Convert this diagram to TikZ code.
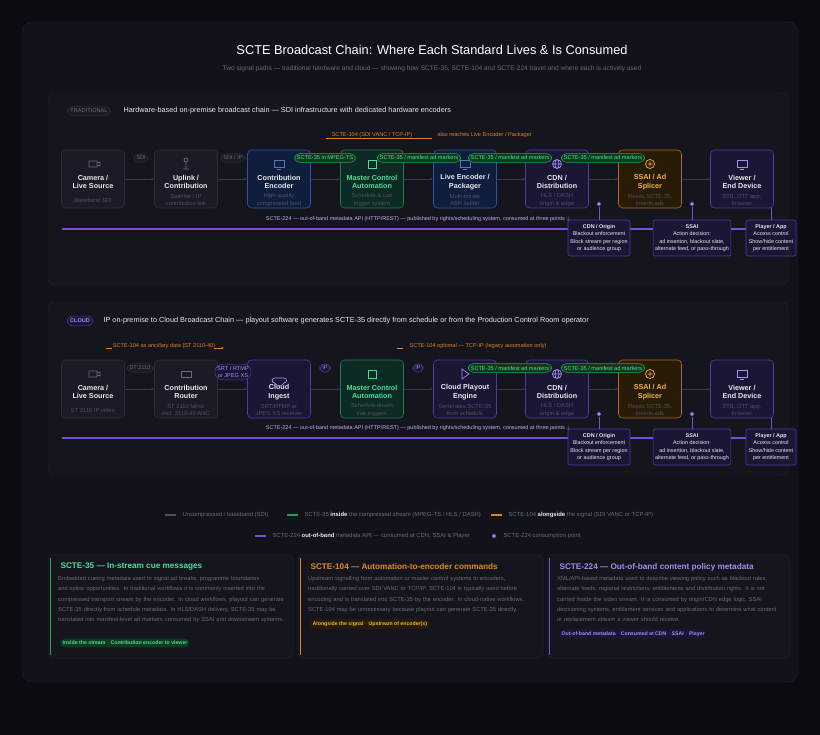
\documentclass[tikz,border=0pt]{standalone}
\usepackage{fontspec}
\setmainfont{Liberation Sans}
\usetikzlibrary{arrows.meta}
\definecolor{bgc}{HTML}{0B0B12}
\definecolor{panelc}{HTML}{12121A}
\definecolor{secc}{HTML}{15151E}
\definecolor{secline}{HTML}{23232F}
\definecolor{txt}{HTML}{E8E8F0}
\definecolor{subt}{HTML}{50505E}
\definecolor{mute}{HTML}{6A6A7A}
\definecolor{grayf}{HTML}{1B1B26}
\definecolor{grayd}{HTML}{2C2C3A}
\definecolor{bluef}{HTML}{0F1E3C}
\definecolor{blued}{HTML}{2B55A8}
\definecolor{greenf}{HTML}{0E2A24}
\definecolor{greend}{HTML}{1E7A58}
\definecolor{greent}{HTML}{4ADE9A}
\definecolor{pillg}{HTML}{0F3A1E}
\definecolor{pillgd}{HTML}{22A050}
\definecolor{purpf}{HTML}{1A1634}
\definecolor{purpd}{HTML}{4E3CA8}
\definecolor{purpl}{HTML}{7C4DDB}
\definecolor{purpt}{HTML}{A48CF0}
\definecolor{orangef}{HTML}{281B08}
\definecolor{oranged}{HTML}{B06A12}
\definecolor{orangel}{HTML}{E0801E}
\definecolor{oranget}{HTML}{F0B43C}
\definecolor{arrowc}{HTML}{3A3A4C}

\tikzset{
  box/.style={rounded corners=4, minimum width=63, minimum height=58, line width=0.6},
  graybox/.style={box, fill=grayf, draw=grayd},
  bluebox/.style={box, fill=bluef, draw=blued},
  greenbox/.style={box, fill=greenf, draw=greend},
  purpbox/.style={box, fill=purpf, draw=purpd},
  orangebox/.style={box, fill=orangef, draw=oranged},
  ttl/.style={font=\fontsize{7.2}{8.6}\selectfont\bfseries, align=center},
  sub/.style={font=\fontsize{5.8}{7.6}\selectfont, align=center, text=subt},
  pill/.style={rounded corners=5, inner sep=2.4, line width=0.5, font=\fontsize{5.6}{6.8}\selectfont},
  graypill/.style={pill, fill=grayf, draw=grayd, text=mute},
  greenpill/.style={pill, fill=pillg, draw=pillgd, text=greent},
  purppill/.style={pill, fill=purpf, draw=purpd, text=purpt},
  flow/.style={draw=arrowc, line width=0.7, -{Stealth[length=3pt]}},
  icon/.style={line width=0.7},
  cbox/.style={rounded corners=2, fill=purpf, draw=purpd, line width=0.6, align=center, text=txt,
    font=\fontsize{5.4}{7.4}\selectfont, inner sep=2},
  dot/.style={circle, fill=purpt, draw=purpf, line width=0.8, inner sep=1.6},
  meta/.style={draw=purpl, line width=1.2},
  orangenote/.style={font=\fontsize{5.6}{6.6}\selectfont, text=orangel},
  card/.style={rounded corners=6, fill=secc, draw=secline, line width=0.5},
  cardttl/.style={font=\fontsize{8.2}{9.6}\selectfont\bfseries, anchor=west},
  cardtxt/.style={font=\fontsize{5.75}{10.4}\selectfont, execute at begin node={\hyphenpenalty=10000\relax}, text=mute, anchor=north west, text width=228, align=left, inner sep=0},
  legend/.style={font=\fontsize{5.9}{7}\selectfont, text=mute, anchor=west},
}

% stage: name, x, top, box style, title colour, title, subtitle
\newcommand\stage[7]{%
  \node[#4] (#1) at (#2,#3+29) {};
  \node[ttl, text=#5] (#1-t) at (#2,#3+32) {#6};
  \node[sub] (#1-s) at (#2,#3+50) {#7};
}

\begin{document}
\begin{tikzpicture}[x=1pt,y=-1pt]
\useasboundingbox (0,0) rectangle (820,735);
\fill[bgc] (0,0) rectangle (820,735);
\draw[fill=panelc, draw=secline, rounded corners=10] (22,22) rectangle (798,682);

\node[font=\fontsize{12.8}{14}\selectfont, text=white] (title) at (432,50) {SCTE Broadcast Chain: Where Each Standard Lives \& Is Consumed};
\node[font=\fontsize{6.6}{8}\selectfont, text=mute] (subtitle) at (432,69) {Two signal paths --- traditional hardware and cloud --- showing how SCTE-35, SCTE-104 and SCTE-224 travel and where each is actively used};

%%% traditional chain
\draw[fill=secc, draw=secline, rounded corners=6] (48,93) rectangle (788,285);
\node[pill, fill=grayf, draw=grayd, text=mute, rounded corners=6, inner sep=3, font=\fontsize{5.6}{6}\selectfont] (tagtrad) at (89,111) {TRADITIONAL};
\node[font=\fontsize{7.3}{8}\selectfont, text=txt, anchor=west] (headtrad) at (120,111) {Hardware-based on-premise broadcast chain --- SDI infrastructure with dedicated hardware encoders};

\stage{cam}{93}{150}{graybox}{txt}{Camera /\\Live Source}{Baseband SDI}
\stage{up}{186}{150}{graybox}{txt}{Uplink /\\Contribution}{Satellite / IP\\contribution link}
\stage{enc}{279}{150}{bluebox}{txt}{Contribution\\Encoder}{High-quality\\compressed feed}
\stage{mc}{372}{150}{greenbox}{greent}{Master Control\\Automation}{Schedule \& cue\\trigger system}
\stage{le}{465}{150}{bluebox}{txt}{Live Encoder /\\Packager}{Multi-bitrate\\ABR ladder}
\stage{cdn}{557}{150}{purpbox}{txt}{CDN /\\Distribution}{HLS / DASH\\origin \& edge}
\stage{ssai}{650}{150}{orangebox}{oranget}{SSAI / Ad\\Splicer}{Reads SCTE-35,\\inserts ads}
\stage{view}{742}{150}{purpbox}{txt}{Viewer /\\End Device}{STB, OTT app,\\browser}

% icons
\draw[icon, draw=mute] (89,161) rectangle (97,167) (97,163) -- (100,162) -- (100,166) -- (97,165);
\draw[icon, draw=mute] (186,160) circle (2) (186,162) -- (186,169) (183,169) -- (189,169);
\draw[icon, draw=blued!80!white] (274,160) rectangle (284,167) (277,169) -- (281,169);
\draw[icon, draw=greent] (368,160) rectangle (376,168);
\draw[icon, draw=blued!80!white] (460,160) rectangle (470,167) (463,169) -- (467,169);
\draw[icon, draw=purpt] (557,164) circle (4.5) (552.5,164) -- (561.5,164) (557,164) ellipse (2 and 4.5);
\draw[icon, draw=oranget] (650,164) circle (4.5) (647.5,164) -- (652.5,164) (650,161.5) -- (650,166.5);
\draw[icon, draw=purpt] (737,160) rectangle (747,167) (740,169) -- (744,169);

\foreach \a/\b in {cam/up, up/enc, enc/mc, mc/le, le/cdn, cdn/ssai, ssai/view}
  \draw[flow] (\a.east) -- (\b.west);

\node[graypill] (p1) at (141,158) {SDI};
\node[graypill] (p2) at (233,158) {SDI / IP};
\node[greenpill] (p3) at (325,158) {SCTE-35 in MPEG-TS};
\node[greenpill] (p4) at (419,158) {SCTE-35 / manifest ad markers};
\node[greenpill] (p5) at (510,158) {SCTE-35 / manifest ad markers};
\node[greenpill] (p6) at (603,158) {SCTE-35 / manifest ad markers};

\node[orangenote] (o1) at (372,135) {SCTE-104 (SDI VANC / TCP-IP)};
\draw[orangel, line width=0.7] (326,138) -- (432,138);
\node[orangenote, anchor=west] (o2) at (434,135) {also reaches Live Encoder / Packager};

\node[font=\fontsize{5.5}{6}\selectfont, text=purpt!70!white] (m1) at (418,219) {SCTE-224 --- out-of-band metadata API (HTTP/REST) --- published by rights/scheduling system, consumed at three points $\downarrow$};
\coordinate (l1a) at (62,229);
\coordinate (l1b) at (775,229);
\draw[meta] (l1a) -- (l1b);

\node[cbox, minimum width=62, minimum height=36] (c1) at (599,238) {\textbf{CDN / Origin}\\Blackout enforcement\\Block stream per region\\or audience group};
\node[cbox, minimum width=77, minimum height=36] (c2) at (692,238) {\textbf{SSAI}\\Action decision:\\ad insertion, blackout slate,\\alternate feed, or pass-through};
\node[cbox, minimum width=50, minimum height=36] (c3) at (771,238) {\textbf{Player / App}\\Access control\\Show/hide content\\per entitlement};
\node[dot] (d1) at (599,204) {};
\node[dot] (d2) at (692,204) {};
\draw[purpl, line width=1] (d1) -- (c1.north) (d2) -- (c2.north);
\draw[purpl, line width=1] (view.south -| c3.north) -- (c3.north);

%%% cloud chain
\draw[fill=secc, draw=secline, rounded corners=6] (48,302) rectangle (788,475);
\node[pill, fill=purpf, draw=purpd, text=purpt, rounded corners=6, inner sep=3, font=\fontsize{5.6}{6}\selectfont\bfseries] (tagcloud) at (80,321) {CLOUD};
\node[font=\fontsize{7.3}{8}\selectfont, text=txt, anchor=west] (headcloud) at (100,321) {IP on-premise to Cloud Broadcast Chain --- playout software generates SCTE-35 directly from schedule or from the Production Control Room operator};

\stage{cam2}{93}{360}{graybox}{txt}{Camera /\\Live Source}{ST 2110 IP video}
\stage{rt}{186}{360}{graybox}{txt}{Contribution\\Router}{ST 2110 fabric\\incl. 2110-40 ANC}
\stage{ing}{279}{360}{purpbox}{txt}{Cloud\\Ingest}{SRT/RTMP or\\JPEG XS receiver}
\stage{mc2}{372}{360}{greenbox}{greent}{Master Control\\Automation}{Schedule-driven\\cue triggers}
\stage{pl}{465}{360}{purpbox}{txt}{Cloud Playout\\Engine}{Generates SCTE-35\\from schedule}
\stage{cdn2}{557}{360}{purpbox}{txt}{CDN /\\Distribution}{HLS / DASH\\origin \& edge}
\stage{ssai2}{650}{360}{orangebox}{oranget}{SSAI / Ad\\Splicer}{Reads SCTE-35,\\inserts ads}
\stage{view2}{742}{360}{purpbox}{txt}{Viewer /\\End Device}{STB, OTT app,\\browser}

\draw[icon, draw=mute] (89,371) rectangle (97,377) (97,373) -- (100,372) -- (100,376) -- (97,375);
\draw[icon, draw=mute] (181,371) rectangle (191,377);
\draw[icon, draw=purpt] (274,378) -- (284,378) arc (-90:90:2.5) arc (20:160:5) arc (90:270:2.5);
\draw[icon, draw=greent] (368,370) rectangle (376,378);
\draw[icon, draw=purpt] (462,369) -- (469,374) -- (462,379) -- cycle;
\draw[icon, draw=purpt] (557,374) circle (4.5) (552.5,374) -- (561.5,374) (557,374) ellipse (2 and 4.5);
\draw[icon, draw=oranget] (650,374) circle (4.5) (647.5,374) -- (652.5,374) (650,371.5) -- (650,376.5);
\draw[icon, draw=purpt] (737,370) rectangle (747,377) (740,379) -- (744,379);

\foreach \a/\b in {cam2/rt, rt/ing, ing/mc2, mc2/pl, pl/cdn2, cdn2/ssai2, ssai2/view2}
  \draw[flow] (\a.east) -- (\b.west);

\node[graypill] (q1) at (140,368) {ST 2110};
\node[purppill, align=center, rounded corners=8] (q2) at (233,372) {SRT / RTMP\\or JPEG XS};
\node[purppill] (q3) at (325,368) {IP};
\node[purppill] (q4) at (418,368) {IP};
\node[greenpill] (q5) at (510,368) {SCTE-35 / manifest ad markers};
\node[greenpill] (q6) at (603,368) {SCTE-35 / manifest ad markers};

\node[orangenote] (o3) at (164,346) {SCTE-104 as ancillary data (ST 2110-40)};
\draw[orangel, line width=0.7] (106,348) -- (112,348);
\draw[orangel, line width=0.7, -{Stealth[length=3pt]}] (214,348) -- (224,348);
\node[orangenote, anchor=west] (o4) at (406,346) {SCTE-104 optional --- TCP-IP (legacy automation only)};
\draw[orangel, line width=0.7] (397,348) -- (403,348);

\node[font=\fontsize{5.5}{6}\selectfont, text=purpt!70!white] (m2) at (418,428) {SCTE-224 --- out-of-band metadata API (HTTP/REST) --- published by rights/scheduling system, consumed at three points $\downarrow$};
\coordinate (l2a) at (62,438);
\coordinate (l2b) at (775,438);
\draw[meta] (l2a) -- (l2b);

\node[cbox, minimum width=62, minimum height=36] (e1) at (599,447) {\textbf{CDN / Origin}\\Blackout enforcement\\Block stream per region\\or audience group};
\node[cbox, minimum width=77, minimum height=36] (e2) at (692,447) {\textbf{SSAI}\\Action decision:\\ad insertion, blackout slate,\\alternate feed, or pass-through};
\node[cbox, minimum width=50, minimum height=36] (e3) at (771,447) {\textbf{Player / App}\\Access control\\Show/hide content\\per entitlement};
\node[dot] (f1) at (599,414) {};
\node[dot] (f2) at (692,414) {};
\draw[purpl, line width=1] (f1) -- (e1.north) (f2) -- (e2.north);
\draw[purpl, line width=1] (view2.south -| e3.north) -- (e3.north);

%%% legend
\draw[subt, line width=1.2] (165,515) -- (176,515);
\node[legend] (lg1) at (179,515) {Uncompressed / baseband (SDI)};
\draw[pillgd, line width=1.2] (287,515) -- (298,515);
\node[legend] (lg2) at (301,515) {SCTE-35 \textbf{\textcolor{txt}{inside}} the compressed stream (MPEG-TS / HLS / DASH)};
\draw[orangel, line width=1.2] (491,515) -- (502,515);
\node[legend] (lg3) at (505,515) {SCTE-104 \textbf{\textcolor{txt}{alongside}} the signal (SDI VANC or TCP-IP)};
\draw[purpl, line width=1.2] (255,536) -- (266,536);
\node[legend] (lg4) at (269,536) {SCTE-224 \textbf{\textcolor{txt}{out-of-band}} metadata API --- consumed at CDN, SSAI \& Player};
\node[dot] (lg5d) at (494,536) {};
\node[legend] (lg5) at (500,536) {SCTE-224 consumption point};

%%% cards
\draw[card] (48,555) rectangle (293,658);
\draw[pillgd, line width=1] (50,558) -- (50,655);
\node[cardttl, text=greent] (k1) at (57,567) {SCTE-35 --- In-stream cue messages};
\node[cardtxt] (k1b) at (58,576) {Embedded cueing metadata used to signal ad breaks, programme boundaries and splice opportunities. In traditional workflows it is commonly inserted into the compressed transport stream by the encoder. In cloud workflows, playout can generate SCTE-35 directly from schedule metadata. In HLS/DASH delivery, SCTE-35 may be translated into manifest-level ad markers consumed by SSAI and downstream systems.};
\node[pill, fill=pillg, draw=none, text=greent, anchor=west, font=\fontsize{5.2}{6}\selectfont\bfseries] (k1p) at (60,643) {Inside the stream $\cdot$ Contribution encoder to viewer};

\draw[card] (298,555) rectangle (543,658);
\draw[orangel, line width=1] (300,558) -- (300,655);
\node[cardttl, text=orangel!80!oranget] (k2) at (307,567) {SCTE-104 --- Automation-to-encoder commands};
\node[cardtxt] (k2b) at (308,576) {Upstream signalling from automation or master control systems to encoders, traditionally carried over SDI VANC or TCP/IP. SCTE-104 is typically used before encoding and is translated into SCTE-35 by the encoder. In cloud-native workflows, SCTE-104 may be unnecessary because playout can generate SCTE-35 directly.};
\node[pill, fill=orangef, draw=none, text=oranget, anchor=west, font=\fontsize{5.2}{6}\selectfont\bfseries] (k2p) at (310,624) {Alongside the signal $\cdot$ Upstream of encoder(s)};

\draw[card] (547,555) rectangle (790,658);
\draw[purpl, line width=1] (549,558) -- (549,655);
\node[cardttl, text=purpt] (k3) at (556,567) {SCTE-224 --- Out-of-band content policy metadata};
\node[cardtxt] (k3b) at (557,576) {XML/API-based metadata used to describe viewing policy such as blackout rules, alternate feeds, regional restrictions, entitlements and distribution rights. It is not carried inside the video stream. It is consumed by origin/CDN edge logic, SSAI decisioning systems, entitlement services and applications to determine what content or replacement stream a viewer should receive.};
\node[pill, fill=purpf, draw=none, text=purpt, anchor=west, font=\fontsize{5.2}{6}\selectfont\bfseries] (k3p) at (559,634) {Out-of-band metadata $\cdot$ Consumed at CDN $\cdot$ SSAI $\cdot$ Player};

\end{tikzpicture}
\end{document}
